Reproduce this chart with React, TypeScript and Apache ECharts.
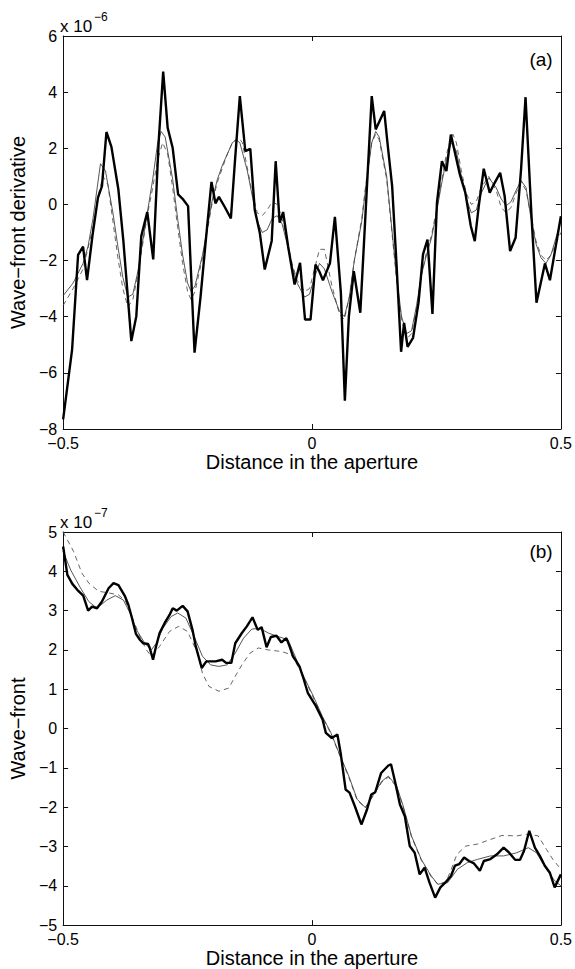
import React, { useEffect, useRef } from "react";
import * as echarts from "echarts";

// ---------- Panel (a): wave-front derivative (x 1e-6) ----------
const aBoldX = [-0.5, -0.482, -0.47, -0.46, -0.452, -0.441, -0.43, -0.422, -0.413, -0.403, -0.389, -0.379, -0.363, -0.353, -0.343, -0.331, -0.319, -0.308, -0.299, -0.29, -0.28, -0.269, -0.26, -0.249, -0.236, -0.224, -0.214, -0.202, -0.194, -0.187, -0.175, -0.163, -0.155, -0.145, -0.134, -0.124, -0.115, -0.105, -0.095, -0.081, -0.073, -0.065, -0.058, -0.048, -0.035, -0.024, -0.014, -0.003, 0.007, 0.015, 0.022, 0.036, 0.046, 0.058, 0.066, 0.074, 0.084, 0.097, 0.12, 0.128, 0.145, 0.153, 0.161, 0.17, 0.179, 0.185, 0.192, 0.203, 0.214, 0.223, 0.232, 0.242, 0.251, 0.261, 0.27, 0.279, 0.297, 0.308, 0.319, 0.327, 0.335, 0.345, 0.357, 0.367, 0.378, 0.387, 0.398, 0.409, 0.42, 0.429, 0.441, 0.451, 0.468, 0.478, 0.5];
const aBoldY = [-7.66, -5.17, -1.8, -1.5, -2.7, -1.1, 0.24, 0.65, 2.58, 2.05, 0.53, -1.3, -4.87, -3.98, -1.13, -0.27, -1.96, 2.26, 4.73, 2.73, 2.02, 0.36, 0.2, -0.06, -5.28, -3.3, -1.4, 0.8, 0.04, 0.27, -0.1, -0.5, 1.5, 3.86, 1.9, 1.98, -0.2, -1.0, -2.32, -1.3, 1.54, -0.65, -0.27, -1.5, -2.85, -2.08, -4.1, -4.1, -2.14, -2.4, -2.7, -2.1, -0.44, -3.15, -6.99, -4.0, -2.38, -3.86, 3.86, 2.67, 3.33, 1.96, 0.65, -2.2, -5.25, -4.22, -5.07, -4.75, -3.5, -1.78, -1.25, -3.9, 0.06, 1.54, 1.19, 2.49, 1.07, 0.42, -0.77, -1.31, -0.06, 1.27, 0.42, 0.77, 1.13, 0.3, -1.66, -1.19, 1.25, 3.82, -0.42, -3.5, -2.1, -2.7, -0.42];

const aThinX = [-0.5, -0.48, -0.46, -0.45, -0.44, -0.43, -0.425, -0.415, -0.4, -0.39, -0.38, -0.37, -0.36, -0.35, -0.34, -0.33, -0.32, -0.31, -0.303, -0.295, -0.28, -0.27, -0.26, -0.25, -0.243, -0.235, -0.22, -0.21, -0.2, -0.19, -0.18, -0.17, -0.16, -0.152, -0.145, -0.13, -0.12, -0.11, -0.1, -0.09, -0.08, -0.07, -0.06, -0.05, -0.04, -0.03, -0.015, -0.005, 0.005, 0.015, 0.025, 0.04, 0.055, 0.065, 0.075, 0.085, 0.1, 0.11, 0.12, 0.128, 0.135, 0.15, 0.16, 0.17, 0.18, 0.19, 0.2, 0.21, 0.22, 0.23, 0.24, 0.25, 0.26, 0.27, 0.28, 0.29, 0.3, 0.31, 0.32, 0.33, 0.34, 0.355, 0.37, 0.38, 0.39, 0.4, 0.41, 0.42, 0.43, 0.44, 0.45, 0.46, 0.47, 0.48, 0.49, 0.5];
const aThinY = [-3.25, -2.8, -2.1, -1.5, -0.5, 0.8, 1.45, 1.2, -0.3, -1.5, -2.6, -3.3, -3.2, -2.4, -1.3, -0.2, 0.9, 2.2, 2.6, 2.4, 0.9, -0.5, -1.8, -2.8, -3.1, -2.9, -1.8, -0.8, 0.2, 0.9, 1.4, 1.8, 2.2, 2.3, 2.2, 1.2, 0.3, -0.6, -1.0, -0.9, -0.5, -0.4, -0.7, -1.4, -2.2, -2.8, -3.3, -3.2, -2.6, -2.1, -2.3, -3.1, -3.8, -4.0, -3.3, -2.0, -0.6, 0.9, 2.2, 2.6, 2.4, 1.0, -0.8, -2.6, -4.0, -4.6, -4.5, -3.6, -2.5, -1.8, -1.2, -0.3, 0.7, 1.6, 2.2, 1.9, 1.0, 0.2, -0.3, -0.2, 0.4, 0.95, 0.6, 0.2, -0.05, 0.1, 0.5, 0.85, 0.6, -0.5, -1.4, -1.9, -2.1, -1.8, -1.2, -0.6];

const aDashX = [-0.5, -0.48, -0.46, -0.44, -0.43, -0.42, -0.41, -0.4, -0.39, -0.38, -0.37, -0.36, -0.35, -0.34, -0.33, -0.32, -0.31, -0.3, -0.29, -0.28, -0.27, -0.26, -0.25, -0.243, -0.235, -0.22, -0.21, -0.2, -0.19, -0.18, -0.17, -0.16, -0.148, -0.14, -0.13, -0.12, -0.11, -0.1, -0.09, -0.08, -0.07, -0.06, -0.05, -0.04, -0.03, -0.015, -0.005, 0.005, 0.015, 0.025, 0.04, 0.055, 0.065, 0.075, 0.085, 0.1, 0.11, 0.12, 0.128, 0.135, 0.15, 0.16, 0.17, 0.18, 0.19, 0.2, 0.21, 0.22, 0.23, 0.24, 0.25, 0.26, 0.27, 0.283, 0.29, 0.3, 0.31, 0.32, 0.33, 0.34, 0.355, 0.37, 0.38, 0.39, 0.4, 0.41, 0.42, 0.43, 0.44, 0.45, 0.46, 0.47, 0.48, 0.49, 0.5];
const aDashY = [-3.6, -3.0, -2.3, -0.8, 0.3, 1.0, 0.7, -0.6, -1.9, -3.0, -3.65, -3.4, -2.5, -1.4, -0.3, 0.6, 1.6, 2.2, 1.8, 0.6, -0.8, -2.1, -3.1, -3.4, -3.1, -1.9, -0.9, 0.1, 0.8, 1.3, 1.8, 2.2, 2.4, 2.2, 1.3, 0.4, -0.3, -0.4, -0.2, 0.1, 0.0, -0.5, -1.3, -2.1, -2.7, -3.1, -3.0, -2.3, -1.6, -1.6, -2.9, -3.9, -4.1, -3.3, -2.0, -0.5, 1.0, 2.2, 2.5, 2.3, 0.9, -0.9, -2.7, -4.1, -4.8, -4.6, -3.7, -2.5, -1.7, -1.1, -0.2, 0.8, 1.8, 2.5, 2.2, 1.2, 0.4, 0.0, 0.1, 0.6, 1.0, 0.5, -0.1, -0.3, -0.1, 0.4, 0.8, 0.5, -0.4, -1.3, -1.8, -2.0, -1.8, -1.4, -1.0];

// ---------- Panel (b): wave-front (x 1e-7) ----------
const bBoldX = [-0.5, -0.4915, -0.4815, -0.4716, -0.4597, -0.4498, -0.4419, -0.432, -0.422, -0.4087, -0.3988, -0.3889, -0.3756, -0.369, -0.3625, -0.3538, -0.3458, -0.3393, -0.3294, -0.326, -0.3194, -0.3141, -0.3062, -0.2962, -0.2863, -0.2798, -0.2718, -0.2599, -0.25, -0.2401, -0.2335, -0.2216, -0.2123, -0.1938, -0.1806, -0.1726, -0.1621, -0.1542, -0.1409, -0.131, -0.1196, -0.1091, -0.1012, -0.0913, -0.0827, -0.0714, -0.0615, -0.0516, -0.045, -0.0383, -0.0252, -0.0185, -0.0085, 0.0079, 0.0212, 0.0278, 0.0397, 0.051, 0.0575, 0.0675, 0.0754, 0.0859, 0.0992, 0.1105, 0.119, 0.127, 0.1389, 0.1534, 0.1587, 0.1667, 0.1766, 0.1865, 0.1964, 0.2063, 0.2163, 0.2262, 0.2361, 0.2474, 0.2579, 0.2692, 0.2792, 0.2871, 0.2956, 0.3056, 0.3155, 0.3254, 0.3373, 0.3452, 0.3585, 0.3716, 0.3849, 0.3948, 0.4081, 0.418, 0.426, 0.4365, 0.4478, 0.4577, 0.4677, 0.4776, 0.4875, 0.5];
const bBoldY = [4.63, 3.91, 3.68, 3.53, 3.38, 3.0, 3.1, 3.06, 3.23, 3.57, 3.7, 3.65, 3.36, 3.15, 2.85, 2.41, 2.26, 2.17, 2.15, 2.05, 1.75, 2.05, 2.43, 2.68, 2.89, 3.06, 3.0, 3.12, 2.98, 2.51, 2.09, 1.54, 1.71, 1.71, 1.75, 1.67, 1.67, 2.17, 2.43, 2.6, 2.83, 2.51, 2.58, 2.07, 2.33, 2.36, 2.19, 2.3, 2.09, 1.84, 1.58, 1.33, 0.91, 0.57, 0.23, -0.11, -0.24, -0.15, -0.62, -1.55, -1.63, -1.97, -2.44, -2.06, -1.68, -1.62, -1.13, -0.94, -0.91, -1.34, -1.93, -2.23, -2.99, -3.16, -3.71, -3.54, -3.92, -4.3, -4.04, -3.9, -3.75, -3.49, -3.45, -3.28, -3.37, -3.43, -3.62, -3.37, -3.32, -3.2, -3.03, -3.14, -3.34, -3.34, -3.11, -2.6, -3.03, -3.24, -3.49, -3.66, -4.04, -3.71];

const bThinX = [-0.5, -0.4847, -0.4649, -0.4484, -0.432, -0.4121, -0.3954, -0.379, -0.3657, -0.3526, -0.3359, -0.3228, -0.3129, -0.2996, -0.2831, -0.2698, -0.2534, -0.2367, -0.2202, -0.2038, -0.1871, -0.1706, -0.1542, -0.1375, -0.121, -0.1046, -0.0879, -0.0681, -0.0482, -0.038, -0.0185, 0.0014, 0.0212, 0.0377, 0.0542, 0.074, 0.0907, 0.1071, 0.1236, 0.1403, 0.1534, 0.17, 0.1831, 0.1998, 0.2196, 0.2395, 0.2526, 0.2724, 0.2923, 0.3121, 0.332, 0.3585, 0.3849, 0.4113, 0.4345, 0.451, 0.4708, 0.4875, 0.5];
const bThinY = [4.5, 4.03, 3.57, 3.23, 3.06, 3.27, 3.38, 3.27, 2.94, 2.51, 2.17, 2.0, 2.17, 2.55, 2.85, 2.94, 2.81, 2.34, 1.84, 1.62, 1.58, 1.62, 1.92, 2.3, 2.53, 2.55, 2.43, 2.34, 2.26, 1.96, 1.37, 0.86, 0.3, -0.1, -0.62, -1.21, -1.8, -2.01, -1.68, -1.34, -1.21, -1.46, -1.97, -2.73, -3.33, -3.75, -3.96, -3.92, -3.58, -3.41, -3.33, -3.24, -3.24, -3.16, -3.03, -3.16, -3.58, -3.87, -4.0];

const bDashX = [-0.5, -0.4788, -0.4623, -0.4484, -0.4286, -0.4121, -0.3889, -0.375, -0.365, -0.3458, -0.3327, -0.3228, -0.3062, -0.2863, -0.2679, -0.25, -0.2302, -0.2202, -0.207, -0.1871, -0.1673, -0.1542, -0.1409, -0.1244, -0.1079, -0.0879, -0.0615, -0.0417, -0.02, 0.0, 0.02, 0.0377, 0.0542, 0.074, 0.0907, 0.1071, 0.1236, 0.1403, 0.1534, 0.17, 0.1831, 0.1998, 0.2196, 0.2395, 0.2526, 0.2692, 0.2792, 0.2911, 0.3089, 0.332, 0.3816, 0.4113, 0.4312, 0.4544, 0.4708, 0.4841, 0.5];
const bDashY = [5.0, 4.5, 3.95, 3.7, 3.49, 3.46, 3.4, 3.25, 2.95, 2.34, 2.0, 1.84, 2.09, 2.47, 2.6, 2.47, 1.92, 1.41, 1.07, 0.95, 1.03, 1.33, 1.62, 1.92, 2.05, 2.0, 1.96, 1.88, 1.4, 0.86, 0.3, -0.12, -0.64, -1.24, -1.82, -2.02, -1.7, -1.36, -1.24, -1.48, -1.99, -2.75, -3.35, -3.77, -3.96, -3.9, -3.6, -3.2, -2.99, -2.94, -2.72, -2.73, -2.69, -2.73, -3.07, -3.33, -3.58];

// ---------- Axis ticks ----------
const xTicks = { min: -0.5, max: 0.5, step: 0.5 };
const aYTicks = { min: -8, max: 6, step: 2 };
const bYTicks = { min: -5, max: 5, step: 1 };

const FONT = "'Liberation Sans', Arial, Helvetica, sans-serif";

function fmt(v: number): string {
  if (Math.abs(v) < 1e-9) return "0";
  const s = String(Math.round(Math.abs(v) * 1000) / 1000);
  return v < 0 ? "\u2212" + s : s;
}

function pairs(xs: number[], ys: number[]) {
  return xs.map((x, i) => [x, ys[i]]);
}

function makeAxes(gi: number, yt: { min: number; max: number; step: number }, yName: string, xNameGap: number, yNameGap: number) {
  const lineStyle = { color: "#111", width: 1 };
  const tick = { show: true, inside: true, length: 5, lineStyle: { color: "#111", width: 1 } };
  const xBase = {
    type: "value",
    gridIndex: gi,
    min: xTicks.min,
    max: xTicks.max,
    interval: xTicks.step,
    splitLine: { show: false },
    axisLine: { show: true, onZero: false, lineStyle },
    axisTick: tick,
  };
  const yBase = {
    type: "value",
    gridIndex: gi,
    min: yt.min,
    max: yt.max,
    interval: yt.step,
    splitLine: { show: false },
    axisLine: { show: true, onZero: false, lineStyle },
    axisTick: tick,
  };
  const xAxes = [
    {
      ...xBase,
      position: "bottom",
      axisLabel: { formatter: fmt, color: "#000", fontSize: 16, fontFamily: FONT, margin: 6 },
      name: "Distance in the aperture",
      nameLocation: "middle",
      nameGap: xNameGap,
      nameTextStyle: { color: "#000", fontSize: 20, fontFamily: FONT },
    },
    { ...xBase, position: "top", axisLabel: { show: false } },
  ];
  const yAxes = [
    {
      ...yBase,
      position: "left",
      axisLabel: { formatter: fmt, color: "#000", fontSize: 16, fontFamily: FONT, margin: 6 },
      name: yName,
      nameLocation: "middle",
      nameRotate: 90,
      nameGap: yNameGap,
      nameTextStyle: { color: "#000", fontSize: 20, fontFamily: FONT },
    },
    { ...yBase, position: "right", axisLabel: { show: false } },
  ];
  return { xAxes, yAxes };
}

export default function App() {
  const ref = useRef<HTMLDivElement>(null);

  useEffect(() => {
    if (!ref.current) return;
    const chart = echarts.init(ref.current, undefined, { renderer: "svg" });

    const A = makeAxes(0, aYTicks, "Wave\u2212front derivative", 22, 24);
    const B = makeAxes(1, bYTicks, "Wave\u2212front", 22, 24);

    const boldStyle = { color: "#000", width: 2.4 };
    const thinStyle = { color: "#444", width: 0.9 };
    const dashStyle = { color: "#555", width: 0.9, type: [5, 4] };

    const mk = (name: string, data: number[][], xi: number, yi: number, ls: any, z: number) => ({
      name,
      type: "line",
      xAxisIndex: xi,
      yAxisIndex: yi,
      data,
      showSymbol: false,
      symbol: "none",
      smooth: false,
      lineStyle: ls,
      z,
    });

    chart.setOption({
      animation: false,
      backgroundColor: "#fff",
      grid: [
        { left: 59, top: 36, width: 504, height: 393, containLabel: false },
        { left: 59, top: 532, width: 503, height: 394, containLabel: false },
      ],
      xAxis: [...A.xAxes, ...B.xAxes],
      yAxis: [...A.yAxes, ...B.yAxes],
      series: [
        mk("a-dashed", pairs(aDashX, aDashY), 0, 0, dashStyle, 2),
        mk("a-thin", pairs(aThinX, aThinY), 0, 0, thinStyle, 3),
        mk("a-bold", pairs(aBoldX, aBoldY), 0, 0, boldStyle, 4),
        mk("b-dashed", pairs(bDashX, bDashY), 2, 2, dashStyle, 2),
        mk("b-thin", pairs(bThinX, bThinY), 2, 2, thinStyle, 3),
        mk("b-bold", pairs(bBoldX, bBoldY), 2, 2, boldStyle, 4),
      ],
      graphic: [
        { type: "text", x: 60, y: 26, style: { text: "x 10", fontSize: 17, fontFamily: FONT, fill: "#000", verticalAlign: "middle" } },
        { type: "text", x: 94, y: 17, style: { text: "\u22126", fontSize: 12, fontFamily: FONT, fill: "#000", verticalAlign: "middle" } },
        { type: "text", x: 541, y: 59, style: { text: "(a)", fontSize: 19, fontFamily: FONT, fill: "#000", align: "center", verticalAlign: "middle" } },
        { type: "text", x: 60, y: 522, style: { text: "x 10", fontSize: 17, fontFamily: FONT, fill: "#000", verticalAlign: "middle" } },
        { type: "text", x: 94, y: 513, style: { text: "\u22127", fontSize: 12, fontFamily: FONT, fill: "#000", verticalAlign: "middle" } },
        { type: "text", x: 541, y: 551, style: { text: "(b)", fontSize: 19, fontFamily: FONT, fill: "#000", align: "center", verticalAlign: "middle" } },
      ],
    });

    return () => chart.dispose();
  }, []);

  return (
    <div
      ref={ref}
      style={{ position: "absolute", left: 0, top: 0, width: 575, height: 969, background: "#fff" }}
    />
  );
}
